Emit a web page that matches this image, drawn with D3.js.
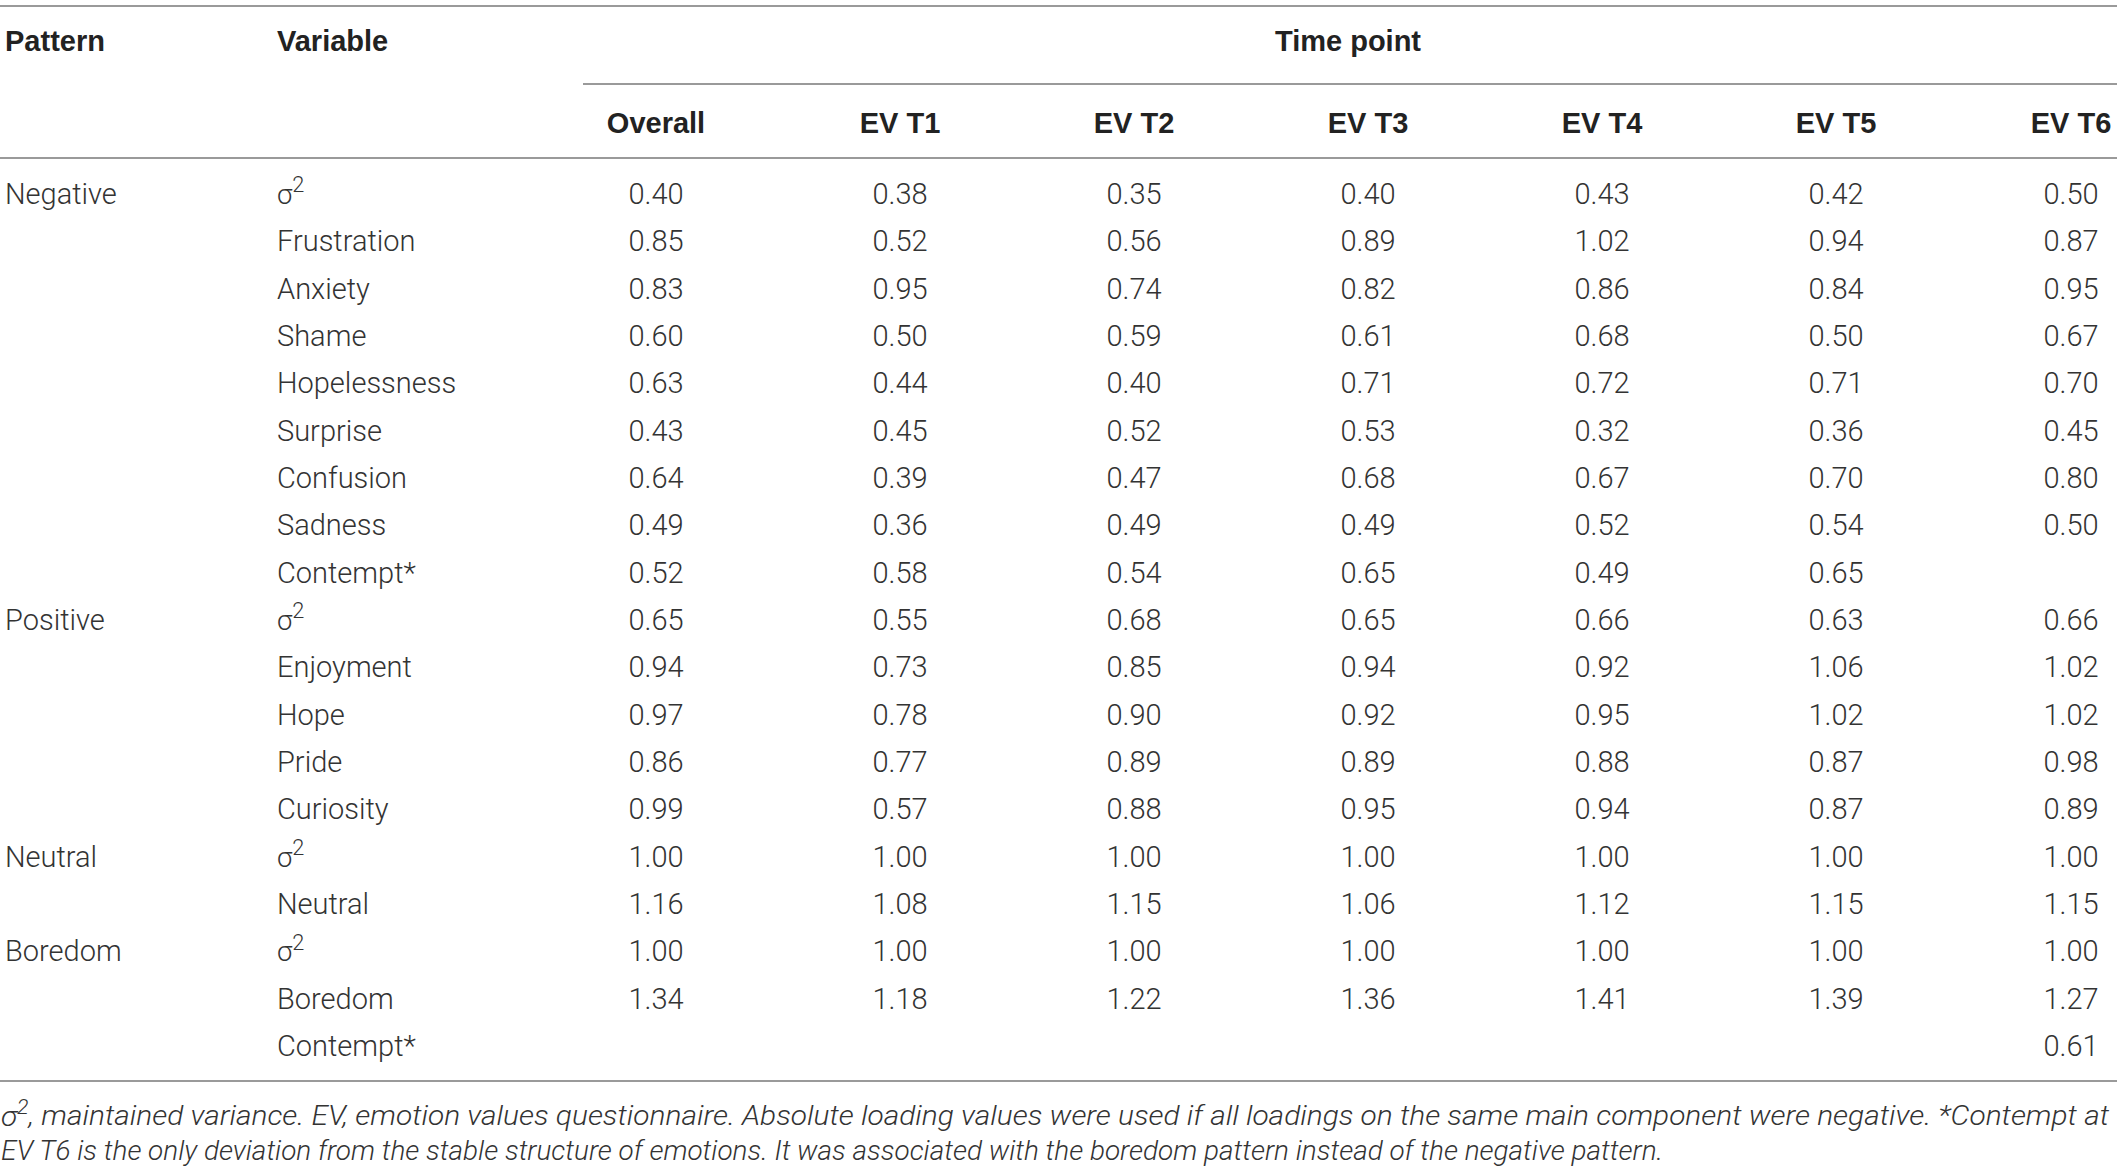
<!DOCTYPE html>
<html>
<head>
<meta charset="utf-8">
<script src="https://cdn.jsdelivr.net/npm/d3@7"></script>
<style>
  html, body { margin: 0; padding: 0; background: #fff; }
  svg { display: block; }
</style>
</head>
<body>
<svg id="chart"></svg>
<script>
// ---------------- DATA ----------------
const columns = ["Overall", "EV T1", "EV T2", "EV T3", "EV T4", "EV T5", "EV T6"];
const patterns = ["Negative", "", "", "", "", "", "", "", "", "Positive", "", "", "", "", "Neutral", "", "Boredom", "", ""];
const variables = ["σ2", "Frustration", "Anxiety", "Shame", "Hopelessness", "Surprise", "Confusion", "Sadness", "Contempt*",
                   "σ2", "Enjoyment", "Hope", "Pride", "Curiosity",
                   "σ2", "Neutral",
                   "σ2", "Boredom", "Contempt*"];
const overall = [0.40, 0.85, 0.83, 0.60, 0.63, 0.43, 0.64, 0.49, 0.52, 0.65, 0.94, 0.97, 0.86, 0.99, 1.00, 1.16, 1.00, 1.34, null];
const evT1    = [0.38, 0.52, 0.95, 0.50, 0.44, 0.45, 0.39, 0.36, 0.58, 0.55, 0.73, 0.78, 0.77, 0.57, 1.00, 1.08, 1.00, 1.18, null];
const evT2    = [0.35, 0.56, 0.74, 0.59, 0.40, 0.52, 0.47, 0.49, 0.54, 0.68, 0.85, 0.90, 0.89, 0.88, 1.00, 1.15, 1.00, 1.22, null];
const evT3    = [0.40, 0.89, 0.82, 0.61, 0.71, 0.53, 0.68, 0.49, 0.65, 0.65, 0.94, 0.92, 0.89, 0.95, 1.00, 1.06, 1.00, 1.36, null];
const evT4    = [0.43, 1.02, 0.86, 0.68, 0.72, 0.32, 0.67, 0.52, 0.49, 0.66, 0.92, 0.95, 0.88, 0.94, 1.00, 1.12, 1.00, 1.41, null];
const evT5    = [0.42, 0.94, 0.84, 0.50, 0.71, 0.36, 0.70, 0.54, 0.65, 0.63, 1.06, 1.02, 0.87, 0.87, 1.00, 1.15, 1.00, 1.39, null];
const evT6    = [0.50, 0.87, 0.95, 0.67, 0.70, 0.45, 0.80, 0.50, null, 0.66, 1.02, 1.02, 0.98, 0.89, 1.00, 1.15, 1.00, 1.27, 0.61];
const seriesValues = [overall, evT1, evT2, evT3, evT4, evT5, evT6];
const headerPattern = "Pattern";
const headerVariable = "Variable";
const headerTime = "Time point";
const footnote1 = ", maintained variance. EV, emotion values questionnaire. Absolute loading values were used if all loadings on the same main component were negative. *Contempt at";
const footnote2 = "EV T6 is the only deviation from the stable structure of emotions. It was associated with the boredom pattern instead of the negative pattern.";

// ---------------- LAYOUT ----------------
const W = 2117, H = 1173;
const svg = d3.select("#chart").attr("width", W).attr("height", H);

const FONT = "Roboto, 'Liberation Sans', Arial, sans-serif";
const HEAD_FONT = "'Liberation Sans', Arial, sans-serif";
const bodySize = 29;
const bodyColor = "#333";
const headColor = "#222";
const lineColor = "#9a9a9a";

const xPattern = 5, xVariable = 277;
const x = d3.scaleOrdinal().domain(columns).range([656, 900, 1134, 1368, 1602, 1836, 2071]);
const y = d3.scalePoint().domain(d3.range(variables.length)).range([193, 1045]);

// rules
function rule(x1, x2, yy) {
  svg.append("line").attr("x1", x1).attr("x2", x2).attr("y1", yy).attr("y2", yy)
    .attr("stroke", lineColor).attr("stroke-width", 2);
}
rule(0, W, 6);
rule(583, W, 84);
rule(0, W, 158);
rule(0, W, 1081);

// headers
const head = svg.append("g").attr("font-family", HEAD_FONT).attr("font-weight", 700)
  .attr("font-size", bodySize).attr("fill", headColor);
head.append("text").attr("x", xPattern).attr("y", 41).attr("dy", "0.35em").text(headerPattern);
head.append("text").attr("x", xVariable).attr("y", 41).attr("dy", "0.35em").text(headerVariable);
head.append("text").attr("x", 1348).attr("y", 41).attr("dy", "0.35em")
  .attr("text-anchor", "middle").text(headerTime);
head.selectAll("text.col").data(columns).join("text").attr("class", "col")
  .attr("x", d => x(d)).attr("y", 123).attr("dy", "0.35em").attr("text-anchor", "middle").text(d => d);

// body
const body = svg.append("g").attr("font-family", FONT).attr("font-weight", 300)
  .attr("font-size", bodySize).attr("fill", bodyColor);

body.selectAll("text.pat").data(patterns).join("text").attr("class", "pat")
  .attr("x", xPattern).attr("y", (d, i) => y(i) + 1).attr("dy", "0.35em").text(d => d);

const vt = body.selectAll("text.var").data(variables).join("text").attr("class", "var")
  .attr("x", xVariable).attr("y", (d, i) => y(i) + 1).attr("dy", "0.35em");
vt.each(function(d) {
  const t = d3.select(this);
  if (d === "σ2") {
    t.append("tspan").attr("font-size", bodySize * 0.95).text("σ");
    t.append("tspan").attr("font-size", bodySize * 0.75).attr("dy", "-0.55em").text("2");
  } else {
    t.text(d);
  }
});

columns.forEach((c, ci) => {
  const vals = seriesValues[ci];
  body.selectAll(null).data(vals.map((v, i) => ({ v, i })).filter(o => o.v !== null))
    .join("text")
    .attr("x", x(c)).attr("y", o => y(o.i) + 1).attr("dy", "0.35em").attr("text-anchor", "middle")
    .text(o => d3.format(".2f")(o.v));
});

// footnote
const foot = svg.append("g").attr("font-family", FONT).attr("font-weight", 300)
  .attr("font-style", "italic").attr("font-size", 28).attr("fill", bodyColor);
const f1 = foot.append("text").attr("x", 1).attr("y", 1116).attr("dy", "0.35em");
f1.append("tspan").text("σ");
f1.append("tspan").attr("font-size", 20).attr("dy", "-0.6em").text("2");
f1.append("tspan").attr("dy", "0.4em").text(footnote1);
foot.append("text").attr("x", 1).attr("y", 1150).attr("dy", "0.35em").text(footnote2);

// fit footnotes to their measured line widths
const fitW = [2108, 1662];
foot.selectAll("text").each(function(d, i) {
  const len = this.getComputedTextLength();
  if (len > 0) {
    d3.select(this).attr("textLength", fitW[i]).attr("lengthAdjust", "spacingAndGlyphs");
  }
});
</script>
</body>
</html>
